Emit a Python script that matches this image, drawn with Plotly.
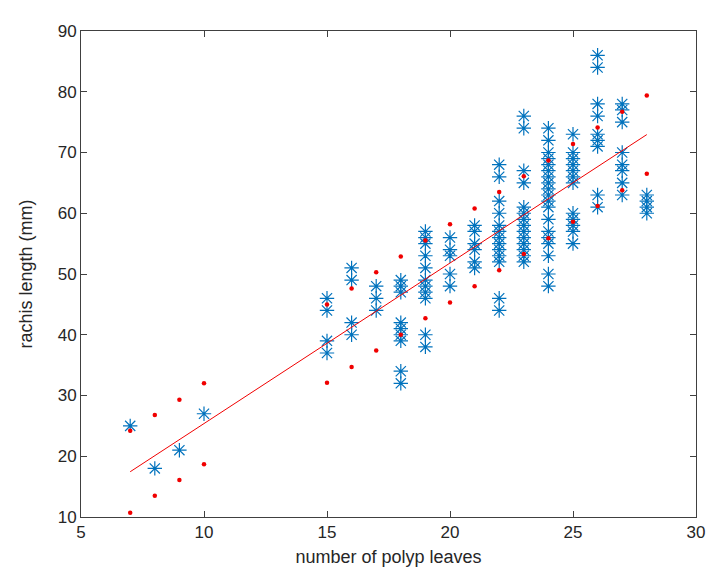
import plotly.graph_objects as go

# measured leaf counts and rachis lengths (mm)
leaves = (
    [7, 8, 9, 10]
    + [15] * 4 + [16] * 4 + [17] * 3 + [18] * 9
    + [19] * 11 + [20] * 5 + [21] * 6 + [22] * 13
    + [23] * 14 + [24] * 19 + [25] * 12 + [26] * 9
    + [27] * 8 + [28] * 4
)
rachis = (
    [25, 18, 21, 27]
    + [46, 44, 39, 37]
    + [51, 49, 42, 40]
    + [48, 46, 44]
    + [49, 48, 47, 42, 41, 40, 39, 34, 32]
    + [57, 56, 55, 53, 51, 49, 48, 47, 46, 40, 38]
    + [56, 54, 53, 50, 48]
    + [58, 57, 55, 54, 52, 51]
    + [68, 66, 62, 60, 58, 57, 56, 55, 54, 53, 52, 46, 44]
    + [76, 74, 67, 65, 61, 60, 59, 58, 57, 56, 55, 54, 53, 52]
    + [74, 72, 70, 69, 68, 67, 66, 65, 64, 63, 62, 61, 59, 57, 56, 55, 53, 50, 48]
    + [73, 70, 69, 68, 67, 66, 65, 60, 59, 58, 57, 55]
    + [86, 84, 78, 76, 73, 72, 71, 63, 61]
    + [78, 77, 75, 70, 68, 67, 65, 63]
    + [63, 62, 61, 60]
)

# prediction bounds (red dots) at each distinct leaf count
bound_x = [7, 8, 9, 10, 15, 16, 17, 18, 19, 20, 21, 22, 23, 24, 25, 26, 27, 28]
bound_upper = [24.2, 26.8, 29.3, 32.0, 45.0, 47.6, 50.3, 52.9, 55.5, 58.2,
               60.8, 63.5, 66.1, 68.7, 71.4, 74.1, 76.7, 79.4]
bound_lower = [10.7, 13.5, 16.1, 18.7, 32.1, 34.7, 37.4, 40.0, 42.7, 45.3,
               48.0, 50.6, 53.3, 55.9, 58.6, 61.2, 63.8, 66.5]

# linear fit endpoints
fit_x = [7, 28]
fit_y = [17.45, 72.95]

blue = '#0072BD'
red = '#F00000'
axis_color = '#404040'
font = 'Liberation Sans, Arial, sans-serif'

fig = go.Figure()
fig.add_trace(
    go.Scatter(
        x=leaves,
        y=rachis,
        mode='markers',
        marker={'symbol': 'asterisk-open', 'size': 12, 'color': blue,
                'line': {'color': blue, 'width': 1.2}},
        showlegend=False,
    )
)
fig.add_trace(
    go.Scatter(
        x=fit_x,
        y=fit_y,
        mode='lines',
        line={'color': red, 'width': 1},
        showlegend=False,
    )
)
fig.add_trace(
    go.Scatter(
        x=bound_x + bound_x,
        y=bound_upper + bound_lower,
        mode='markers',
        marker={'symbol': 'circle', 'size': 4.5, 'color': red},
        showlegend=False,
    )
)

axis_common = {
    'showline': True,
    'linecolor': axis_color,
    'linewidth': 1,
    'mirror': 'ticks',
    'ticks': 'inside',
    'ticklen': 6,
    'tickcolor': axis_color,
    'showgrid': False,
    'zeroline': False,
    'tickfont': {'family': font, 'size': 17, 'color': '#262626'},
    'title_font': {'family': font, 'size': 18, 'color': '#262626'},
}

fig.update_xaxes(
    range=[5, 30],
    tickvals=[5, 10, 15, 20, 25, 30],
    title_text='number of polyp leaves',
    title_standoff=8,
    **axis_common,
)
fig.update_yaxes(
    range=[10, 90],
    tickvals=[10, 20, 30, 40, 50, 60, 70, 80, 90],
    title_text='rachis length (mm)',
    title_standoff=20,
    **axis_common,
)
fig.update_layout(
    width=726,
    height=587,
    margin={'l': 73, 'r': 38, 't': 23, 'b': 78},
    plot_bgcolor='white',
    paper_bgcolor='white',
)

fig.write_html('out.html')
